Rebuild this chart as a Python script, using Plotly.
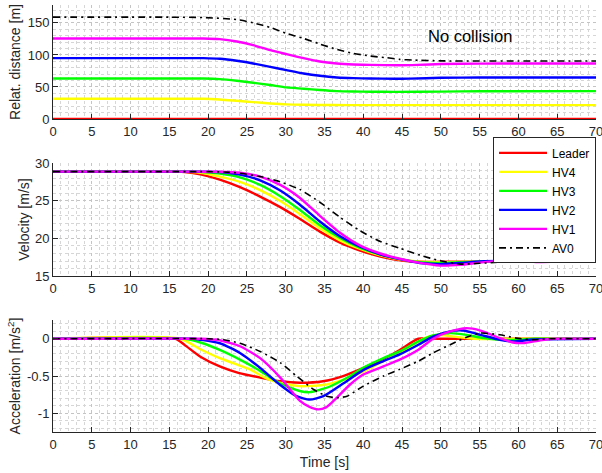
import plotly.graph_objects as go

# ---------------- data ----------------
names = ["Leader", "HV4", "HV3", "HV2", "HV1", "AV0"]
colors = ["#ff0000", "#ffff00", "#00ff00", "#0000ff", "#ff00ff", "#000000"]

# Relative distance [m]
d_leader_t = [0, 70]
d_leader = [0, 0]
d_hv4_t = [0, 15.1, 19.4, 21.5, 23.7, 25.8, 28.0, 30.1, 32.3, 36, 40, 50, 70]
d_hv4 = [31.6, 31.6, 31.6, 30.5, 28.4, 26.4, 24.3, 22.8, 22.2, 21.8, 21.7, 21.7, 21.7]
d_hv3_t = [0, 15.1, 19.4, 21.5, 23.7, 25.8, 28.0, 30.1, 32.3, 34.4, 36.6, 38.7, 40.9, 44, 50, 55, 70]
d_hv3 = [63.3, 63.3, 63.3, 62.3, 59.7, 56.6, 53.0, 49.3, 47.3, 45.2, 43.6, 43.0, 42.6, 42.4, 42.8, 43.4, 43.6]
d_hv2_t = [0, 15.1, 19.4, 21.5, 23.7, 25.8, 28.0, 30.1, 32.3, 34.4, 36.6, 38.7, 40.9, 44, 46, 50, 55, 70]
d_hv2 = [95, 95, 95, 94, 90.9, 86.7, 81.5, 76.3, 71.1, 67.5, 64.9, 63.8, 63.3, 62.9, 63.0, 64.3, 64.9, 64.9]
d_hv1_t = [0, 15.1, 19.4, 21.5, 23.7, 25.8, 28.0, 30.1, 32.3, 34.4, 36.6, 38.7, 40.9, 44.7, 47, 50, 55, 60, 70]
d_hv1 = [125.7, 125.7, 125.7, 124.7, 121, 115.3, 107.5, 101.3, 95, 89.8, 86.7, 85.2, 84.5, 84, 84.5, 85.8, 86.5, 86.7, 86.7]
d_av0_t = [0, 15.1, 19.4, 23.7, 25.8, 28.0, 30.1, 32.3, 34.4, 36.6, 38.7, 40.9, 43.0, 44.7, 46.4, 50, 55, 60, 70]
d_av0 = [159, 159, 158.4, 155.3, 150.1, 142.9, 133.6, 125.8, 117, 108.7, 102.5, 98.3, 95.7, 93.1, 92, 90.8, 90.5, 90.5, 90.5]

# Velocity [m/s]
v_leader_t = [0, 15.8, 17, 19, 21.5, 24.1, 26.7, 29.3, 31.8, 34.4, 37, 39.6, 42.2, 44.7, 47.3, 50, 55, 60, 70]
v_leader = [28.85, 28.85, 28.8, 28.5, 27.8, 26.8, 25.55, 24.15, 22.6, 20.9, 19.45, 18.4, 17.6, 17.1, 16.9, 16.9, 16.9, 16.9, 16.9]
v_hv4_t = [0, 16.5, 19, 21.5, 24.1, 26.7, 29.3, 31.8, 34.4, 37, 39.6, 42.2, 44.7, 47.3, 50, 55, 70]
v_hv4 = [28.85, 28.85, 28.7, 28.2, 27.5, 26.4, 24.95, 23.25, 21.35, 19.75, 18.6, 17.75, 17.2, 16.9, 16.85, 16.9, 16.9]
v_hv3_t = [0, 17, 19, 21.5, 24.1, 26.7, 29.3, 31.8, 34.4, 37, 39.6, 42.2, 44.7, 47.3, 49.9, 52.5, 55, 70]
v_hv3 = [28.85, 28.85, 28.82, 28.6, 28.1, 27.1, 25.6, 23.8, 21.75, 20.05, 18.75, 17.85, 17.25, 16.85, 16.75, 16.85, 16.9, 16.9]
v_hv2_t = [0, 18, 21.5, 24.1, 26.7, 29.3, 31.8, 34.4, 37, 39.6, 42.2, 44.7, 47.3, 49.9, 52.5, 55, 57.6, 60, 70]
v_hv2 = [28.85, 28.85, 28.8, 28.45, 27.7, 26.35, 24.5, 22.25, 20.3, 18.9, 17.9, 17.25, 16.75, 16.6, 16.75, 16.95, 17.0, 16.95, 16.9]
v_hv1_t = [0, 19, 21.5, 24.1, 26.7, 29.3, 31.8, 34.4, 37, 39.6, 42.2, 44.7, 47.3, 49.9, 52.5, 55, 57.6, 60.2, 62.8, 65, 70]
v_hv1 = [28.85, 28.85, 28.83, 28.7, 28.2, 27.1, 25.4, 23.0, 20.75, 19.05, 18.0, 17.3, 16.75, 16.4, 16.5, 16.8, 17.03, 17.0, 16.87, 16.9, 16.9]
v_av0_t = [0, 20, 22, 24.1, 26.7, 29.3, 31.8, 34.4, 37, 39.6, 42.2, 44.7, 47.3, 49.9, 52.5, 55, 57.6, 60.2, 63, 70]
v_av0 = [28.85, 28.85, 28.8, 28.65, 28.2, 27.5, 26.5, 24.8, 22.8, 21.0, 19.6, 18.7, 17.78, 17.03, 16.6, 16.7, 16.85, 17.0, 17.0, 16.9]

# Acceleration [m/s^2]
a_leader_t = [0, 15.8, 17, 19, 21.5, 24, 26.7, 29.3, 31.8, 34.8, 37.4, 40, 42.6, 44.7, 47.1, 50, 70]
a_leader = [0, 0, -0.085, -0.24, -0.37, -0.46, -0.52, -0.57, -0.59, -0.57, -0.5, -0.39, -0.27, -0.15, 0, 0, 0]
a_hv4_t = [0, 16.4, 19, 21.5, 24.1, 25.4, 27.5, 29.7, 31.8, 34.8, 37.4, 40, 42.6, 44.7, 47.1, 48.1, 49.8, 52, 54.2, 60, 70]
a_hv4 = [0, 0, -0.14, -0.26, -0.36, -0.41, -0.53, -0.6, -0.635, -0.62, -0.55, -0.44, -0.30, -0.19, -0.04, 0.02, 0.05, 0.025, 0, 0, 0]
a_hv3_t = [0, 17, 19, 21.5, 24.1, 26.7, 29.3, 31.8, 33.1, 35.7, 38.3, 40, 42.6, 44.7, 47.1, 49, 51.2, 53.3, 55.5, 57.6, 60, 62, 70]
a_hv3 = [0, 0, -0.05, -0.15, -0.28, -0.43, -0.6, -0.70, -0.716, -0.64, -0.5, -0.39, -0.26, -0.17, -0.036, 0.044, 0.076, 0.053, 0.009, -0.013, -0.013, 0, 0]
a_hv2_t = [0, 18, 19, 21.5, 24.1, 26.7, 29.3, 31.4, 33.1, 34.85, 37.4, 40, 42.6, 44.7, 47.1, 49, 51.2, 52.9, 55.1, 57.6, 59.3, 62, 70]
a_hv2 = [0, 0, -0.013, -0.06, -0.19, -0.39, -0.62, -0.77, -0.815, -0.77, -0.6, -0.42, -0.3, -0.21, -0.08, 0.03, 0.1, 0.11, 0.053, -0.013, -0.036, -0.01, 0]
a_hv1_t = [0, 19, 21.5, 24.1, 26.7, 29.3, 31.8, 33, 34.2, 35.2, 36.2, 38.3, 40, 42.6, 44.7, 47.1, 49, 51.2, 53.3, 55.1, 57.6, 59.3, 60.6, 62.8, 64.5, 70]
a_hv1 = [0, 0, -0.02, -0.1, -0.26, -0.52, -0.83, -0.91, -0.947, -0.92, -0.83, -0.613, -0.48, -0.37, -0.28, -0.147, 0, 0.098, 0.142, 0.11, 0.01, -0.05, -0.058, -0.02, 0, 0]
a_av0_t = [0, 20, 22, 24.1, 26.7, 29.3, 31.4, 33.6, 35.3, 36.6, 37.9, 40, 42.6, 44.7, 47.1, 49, 51.2, 53.3, 55.1, 57.6, 59.7, 61.9, 64, 70]
a_av0 = [0, 0, -0.013, -0.06, -0.17, -0.32, -0.5, -0.68, -0.77, -0.79, -0.77, -0.635, -0.5, -0.41, -0.30, -0.19, -0.08, 0.022, 0.076, 0.053, 0.009, -0.013, 0, 0]

x_ticks = [0, 5, 10, 15, 20, 25, 30, 35, 40, 45, 50, 55, 60, 65, 70]
d_ticks = [0, 50, 100, 150]
v_ticks = [15, 20, 25, 30]
a_ticks = [-1, -0.5, 0]
a_ticklabels = ["-1", "-0.5", "0"]

dist = [(d_leader_t, d_leader), (d_hv4_t, d_hv4), (d_hv3_t, d_hv3), (d_hv2_t, d_hv2), (d_hv1_t, d_hv1), (d_av0_t, d_av0)]
vel = [(v_leader_t, v_leader), (v_hv4_t, v_hv4), (v_hv3_t, v_hv3), (v_hv2_t, v_hv2), (v_hv1_t, v_hv1), (v_av0_t, v_av0)]
acc = [(a_leader_t, a_leader), (a_hv4_t, a_hv4), (a_hv3_t, a_hv3), (a_hv2_t, a_hv2), (a_hv1_t, a_hv1), (a_av0_t, a_av0)]

# ---------------- figure ----------------
fig = go.Figure()
FONT = "Liberation Sans, Arial, Helvetica, sans-serif"
AXC = "#262626"


def line_style(i):
    if names[i] == "AV0":
        return dict(color=colors[i], width=1.6, dash="7px,4px,2px,4px", shape="spline", smoothing=0.6)
    return dict(color=colors[i], width=2.4, shape="spline", smoothing=0.6)


panels = [(dist, "x", "y", False), (vel, "x2", "y2", True), (acc, "x3", "y3", False)]
for data, xa, ya, show in panels:
    for i, (t, y) in enumerate(data):
        fig.add_trace(go.Scatter(x=t, y=y, mode="lines", name=names[i], line=line_style(i),
                                 xaxis=xa, yaxis=ya, showlegend=show))


def xax(anchor, title=None):
    d = dict(domain=[0, 1], range=[0, 70], anchor=anchor, tickvals=x_ticks, automargin=False,
             ticklabeloverflow="allow",
             ticks="inside", ticklen=5, tickcolor=AXC, showline=True, linecolor=AXC, linewidth=1,
             mirror=False, zeroline=False, showgrid=True, gridcolor="#c4c4c4", griddash="dot", gridwidth=1,
             minor=dict(dtick=1, showgrid=True, gridcolor="#d6d6d6", griddash="dot", gridwidth=1, ticks=""),
             tickfont=dict(size=13, color=AXC, family=FONT))
    if title:
        d["title"] = dict(text=title, font=dict(size=14, color=AXC, family=FONT), standoff=6)
    return d


def yax(anchor, dom, rng, tv, tt, minor_dt, title, standoff):
    return dict(domain=dom, range=rng, anchor=anchor, tickvals=tv, ticktext=tt, automargin=False,
                ticklabeloverflow="allow",
                ticks="inside", ticklen=5, tickcolor=AXC, showline=True, linecolor=AXC, linewidth=1,
                mirror=False, zeroline=False, showgrid=True, gridcolor="#c4c4c4", griddash="dot", gridwidth=1,
                minor=dict(dtick=minor_dt, showgrid=True, gridcolor="#d6d6d6", griddash="dot", gridwidth=1, ticks=""),
                tickfont=dict(size=13, color=AXC, family=FONT),
                title=dict(text=title, font=dict(size=14, color=AXC, family=FONT), standoff=standoff))


fig.update_layout(
    width=602, height=473,
    margin=dict(l=53, r=6, t=5, b=41, autoexpand=False),
    paper_bgcolor="white", plot_bgcolor="white",
    font=dict(family=FONT, color=AXC),
    xaxis=xax("y"),
    xaxis2=xax("y2"),
    xaxis3=xax("y3", "Time [s]"),
    yaxis=yax("x", [0.733, 1.0], [0, 178], d_ticks, [str(v) for v in d_ticks], 10, "Relat. distance [m]", 3),
    yaxis2=yax("x2", [0.365, 0.630], [15, 30], v_ticks, [str(v) for v in v_ticks], 1, "Velocity [m/s]", 2),
    yaxis3=yax("x3", [0.0, 0.262], [-1.25, 0.25], a_ticks, a_ticklabels, 0.1, "Acceleration [m/s<sup>2</sup>]", 3),
    legend=dict(x=1.0, xanchor="right", y=0.69, yanchor="top", bgcolor="white",
                bordercolor=AXC, borderwidth=1, font=dict(size=12, color="#000000", family=FONT),
                tracegroupgap=0, itemwidth=48),
    annotations=[dict(x=53.8, y=129, xref="x", yref="y", text="No collision", showarrow=False,
                      font=dict(size=16.5, color="#000000", family=FONT), xanchor="center", yanchor="middle")],
)

fig.write_html("out.html")
